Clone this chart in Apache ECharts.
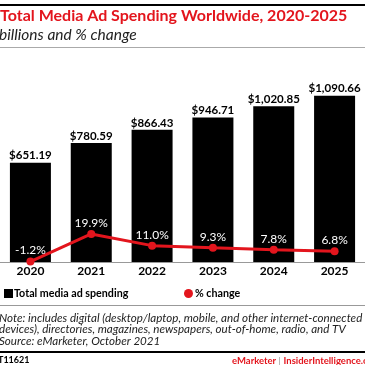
<!DOCTYPE html>
<html><head><meta charset="utf-8">
<script src="https://cdn.jsdelivr.net/npm/echarts@6/dist/echarts.min.js"></script>
<style>html,body{margin:0;padding:0;background:#fff}#c{width:365px;height:365px}</style>
</head><body><div id="c"></div>
<script>
const categories = ['2020','2021','2022','2023','2024','2025'];
const spending = [651.19, 780.59, 866.43, 946.71, 1020.85, 1090.66];
const pctChange = [-1.2, 19.9, 11.0, 9.3, 7.8, 6.8];
const spendingLabels = ['$651.19','$780.59','$866.43','$946.71','$1,020.85','$1,090.66'];
const pctLabels = ['-1.2%','19.9%','11.0%','9.3%','7.8%','6.8%'];

const RED = '#e3151d';
const FONT = 'Lato, "Open Sans", sans-serif';
const chart = echarts.init(document.getElementById('c'), null, {renderer:'canvas'});
chart.setOption({
  animation:false,
  backgroundColor:'#fff',
  grid:{left:-3.5, right:-3.5, top:63.7, bottom:103, containLabel:false},
  xAxis:{type:'category', data:categories, boundaryGap:true,
    axisLine:{show:true, lineStyle:{color:'#999', width:1}},
    axisTick:{show:false},
    axisLabel:{color:'#000', fontFamily:FONT, fontWeight:'bold', fontSize:12, margin:3}},
  yAxis:[
    {type:'value', min:0, max:1300, show:false, splitLine:{show:false}},
    {type:'value', min:-1.5, max:150, show:false, splitLine:{show:false}}
  ],
  legend:[
    {data:['Total media ad spending'], left:-1, top:283, itemWidth:9, itemHeight:9, icon:'rect', itemGap:0,
      textStyle:{color:'#000', fontFamily:FONT, fontWeight:'bold', fontSize:10.7, padding:[0,0,0,-4]}},
    {data:['% change'], left:179, top:283, itemWidth:9, itemHeight:9, icon:'circle',
      textStyle:{color:'#000', fontFamily:FONT, fontWeight:'bold', fontSize:10.7, padding:[0,0,0,-3]}}
  ],
  series:[
    {name:'Total media ad spending', type:'bar', data:spending, barWidth:41, yAxisIndex:0,
      itemStyle:{color:'#000'},
      label:{show:true, position:'top', distance:1, color:'#000', fontFamily:FONT, fontWeight:'bold', fontSize:11.5,
        formatter:p=>spendingLabels[p.dataIndex]}},
    {name:'% change', type:'line', data:pctChange, yAxisIndex:1, symbol:'circle', symbolSize:8,
      lineStyle:{color:RED, width:3}, itemStyle:{color:RED},
      label:{show:true, position:'top', distance:1, color:'#fff', fontFamily:FONT, fontSize:12,
        formatter:p=>pctLabels[p.dataIndex]}, z:5}
  ],
  graphic:[
    {type:'rect', shape:{x:0,y:4,width:365,height:2}, style:{fill:'#000'}},
    {type:'text', left:0, top:8, style:{text:'Total Media Ad Spending Worldwide, 2020-2025', fill:RED, font:'bold 16px '+FONT}},
    {type:'text', left:-1, top:27, style:{text:'billions and % change', fill:'#222', font:'italic 15.5px '+FONT}},
    {type:'rect', shape:{x:0,y:47,width:365,height:1}, style:{fill:'#aaa'}},
    {type:'rect', shape:{x:0,y:305,width:365,height:1}, style:{fill:'#999'}},
    {type:'text', left:-1, top:312, style:{text:'Note: includes digital (desktop/laptop, mobile, and other internet-connected\ndevices), directories, magazines, newspapers, out-of-home, radio, and TV\nSource: eMarketer, October 2021', fill:'#222', font:'italic 11.6px '+FONT, lineHeight:11.7}},
    {type:'rect', shape:{x:0,y:351,width:365,height:2}, style:{fill:'#000'}},
    {type:'text', left:-2, top:356, style:{text:'T11621', fill:'#000', font:'bold 9px '+FONT}},
    {type:'text', left:232, top:356, style:{rich:{a:{fill:RED, font:'bold 9.5px '+FONT}, b:{fill:'#999', font:'9.5px '+FONT, padding:[0,3,0,2]}}, text:'{a|eMarketer}{b||}{a|InsiderIntelligence.com}'}}
  ]
});
</script></body></html>
